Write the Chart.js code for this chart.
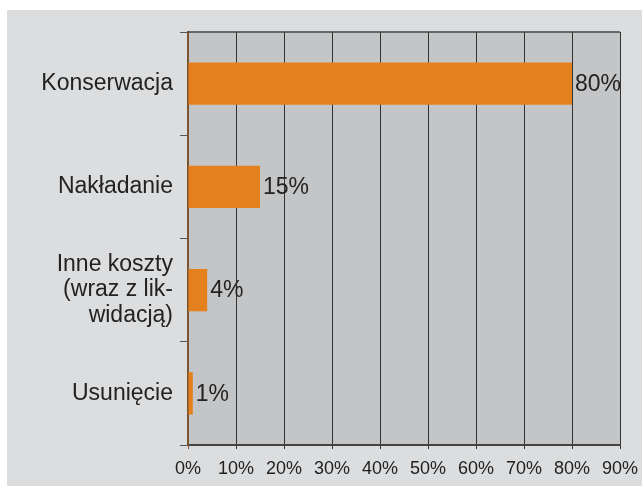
<!DOCTYPE html>
<html>
<head>
<meta charset="utf-8">
<script src="https://cdn.jsdelivr.net/npm/chart.js@4/dist/chart.umd.min.js"></script>
<style>
  body { margin: 0; background: #ffffff; }
  #panel { position: absolute; left: 7px; top: 10px; width: 635px; height: 476px; background: #dcdddf; }
</style>
</head>
<body>
<div id="panel"><canvas id="costChart" width="635" height="476"></canvas></div>
<script>
const categories = ['Konserwacja', 'Nakładanie', ['Inne koszty', '(wraz z lik-', 'widacją)'], 'Usunięcie'];
const shares = [80, 15, 4, 1];
const axisMin = 0;
const axisMax = 90;
const axisStep = 10;

const FONT = '"Liberation Sans", Arial, sans-serif';

// plot background and top edge
const plotFrame = {
	id: 'plotFrame',
	beforeDraw(chart) {
		const { ctx, chartArea: a } = chart;
		ctx.save();
		ctx.fillStyle = '#c4c5c7';
		ctx.fillRect(a.left, a.top, a.right - a.left, a.bottom - a.top);
		ctx.restore();
	},
	afterDraw(chart) {
		const { ctx, chartArea: a } = chart;
		ctx.save();
		ctx.strokeStyle = '#444';
		ctx.lineWidth = 1.5;
		ctx.beginPath();
		ctx.moveTo(a.left, a.top);
		ctx.lineTo(a.right, a.top);
		ctx.stroke();
		ctx.restore();
	}
};

// value labels at the end of each bar
const valueLabels = {
	id: 'valueLabels',
	afterDatasetsDraw(chart) {
		const { ctx } = chart;
		const meta = chart.getDatasetMeta(0);
		ctx.save();
		ctx.font = '23px ' + FONT;
		ctx.fillStyle = '#222';
		ctx.textAlign = 'left';
		ctx.textBaseline = 'middle';
		meta.data.forEach((bar, i) => {
			ctx.fillText(shares[i] + '%', bar.x + 3, bar.y + 1);
		});
		ctx.restore();
	}
};

new Chart(document.getElementById('costChart'), {
	type: 'bar',
	data: {
		labels: categories,
		datasets: [{
			data: shares,
			backgroundColor: '#e5801f',
			borderWidth: 0,
			categoryPercentage: 1,
			barPercentage: 0.41,
		}]
	},
	options: {
		indexAxis: 'y',
		responsive: false,
		animation: false,
		devicePixelRatio: 1,
		layout: { padding: { top: 22, right: 22, left: 0, bottom: 0 } },
		plugins: {
			legend: { display: false },
			tooltip: { enabled: false }
		},
		scales: {
			x: {
				min: axisMin,
				max: axisMax,
				afterFit(scale) {
					scale.height = 41;
					scale.paddingLeft = 0;
					scale.paddingRight = 0;
				},
				ticks: {
					stepSize: axisStep,
					color: '#222',
					font: { family: FONT, size: 18 },
					padding: 9,
					callback: v => v + '%'
				},
				grid: {
					color: ctx => ctx.index === 0 ? '#7a5530' : '#333',
					lineWidth: 1,
					tickLength: 4
				},
				border: { color: '#444', width: 2 }
			},
			y: {
				afterFit(scale) { scale.width = 181; },
				ticks: {
					color: '#222',
					font: { family: FONT, size: 23, lineHeight: 1.1 },
					padding: 7
				},
				grid: {
					drawOnChartArea: false,
					color: '#555',
					tickLength: 8,
					offset: true
				},
				border: { color: '#7a5530', width: 2 }
			}
		}
	},
	plugins: [plotFrame, valueLabels]
});
</script>
</body>
</html>
